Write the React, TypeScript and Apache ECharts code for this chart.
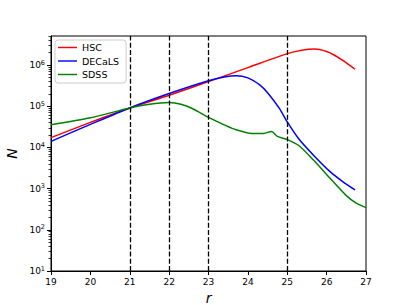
import React, { useEffect, useRef } from "react";
import * as echarts from "echarts";

// magnitude bins (r) and counts N
const hscR = [19, 20, 21, 22, 23, 24, 25, 25.4, 25.7, 26.0, 26.2, 26.45, 26.72];
const hscN = [17400, 40700, 91200, 186000, 398000, 871000, 1900000, 2340000, 2450000, 2140000, 1740000, 1230000, 794000];

const decalsR = [19, 20, 21, 22, 23, 23.4, 23.7, 24.0, 24.3, 24.5, 24.8, 25.0, 25.3, 25.66, 26.08, 26.4, 26.72];
const decalsN = [14100, 36300, 91200, 204000, 417000, 513000, 550000, 490000, 331000, 214000, 89100, 41700, 15800, 6600, 2630, 1510, 933];

const sdssR = [19, 20, 21, 21.5, 22, 22.3, 22.6, 23, 23.4, 23.7, 24.1, 24.4, 24.6, 24.75, 25.0, 25.3, 25.66, 26.08, 26.5, 26.75, 27.0];
const sdssN = [35500, 52500, 91200, 112000, 123000, 112000, 87100, 53700, 35500, 26900, 21900, 21900, 24500, 18600, 15500, 11000, 5010, 1820, 676, 447, 347];

const cutLines = [21, 22, 23, 25];
const majorExp = [1, 2, 3, 4, 5, 6];
const xTicks = [19, 20, 21, 22, 23, 24, 25, 26, 27];
const yMin = 10;
const yMax = 5100000;

const FONT = "DejaVu Sans";
const LEGEND_ICON = "path://M0,0 L20,0 L20,1.5 L0,1.5 Z";

export default function App() {
  const ref = useRef<HTMLDivElement>(null);
  useEffect(() => {
    if (!ref.current) return;
    const chart = echarts.init(ref.current, undefined, { renderer: "svg" });
    const lg = (v: number) => Math.log10(v);
    const toData = (rs: number[], ns: number[]) => rs.map((r, i) => [r, lg(ns[i])]);
    const minor: number[] = [];
    for (let n = 1; n <= 6; n++) {
      for (let k = 2; k <= 9; k++) {
        const v = lg(k * Math.pow(10, n));
        if (v <= lg(yMax)) minor.push(v);
      }
    }
    const lineSeries = (name: string, color: string, data: number[][], extra: any = {}) => ({
      name,
      type: "line",
      data,
      symbol: "none",
      showSymbol: false,
      smooth: 0.25,
      lineStyle: { color, width: 1.5 },
      itemStyle: { color },
      z: 3,
      ...extra,
    });
    chart.setOption({
      animation: false,
      backgroundColor: "#fff",
      textStyle: { fontFamily: FONT },
      grid: {
        left: 51,
        right: 41,
        top: 36,
        bottom: 34,
        show: true,
        borderColor: "#000",
        borderWidth: 1,
        backgroundColor: "transparent",
        containLabel: false,
        outerBoundsMode: "none",
      },
      legend: {
        left: 55,
        top: 40,
        orient: "vertical",
        icon: LEGEND_ICON,
        itemWidth: 19,
        itemHeight: 11,
        itemGap: 2.5,
        padding: [2, 7, 3, 3],
        backgroundColor: "rgba(255,255,255,0.8)",
        borderColor: "#cccccc",
        borderWidth: 1,
        borderRadius: 3,
        textStyle: { fontFamily: FONT, fontSize: 9.5, color: "#000", lineHeight: 11 },
        data: ["HSC", "DECaLS", "SDSS"],
      },
      xAxis: {
        type: "value",
        min: 19,
        max: 27,
        interval: 1,
        name: "r",
        nameLocation: "middle",
        nameGap: 17,
        nameTextStyle: { fontFamily: FONT, fontSize: 14, fontStyle: "italic", color: "#000" },
        axisLine: { show: true, lineStyle: { color: "#000", width: 1 } },
        axisTick: { show: true, inside: false, length: 4, lineStyle: { color: "#000" }, customValues: xTicks },
        axisLabel: { fontFamily: FONT, fontSize: 9, color: "#000", margin: 6, customValues: xTicks },
        splitLine: { show: false },
      },
      yAxis: [
        {
          type: "value",
          min: lg(yMin),
          max: lg(yMax),
          name: "N",
          nameLocation: "middle",
          nameGap: 25,
          nameTextStyle: { fontFamily: FONT, fontSize: 14, fontStyle: "italic", color: "#000" },
          axisLine: { show: true, lineStyle: { color: "#000", width: 1 } },
          axisTick: { show: true, inside: false, length: 4, lineStyle: { color: "#000" }, customValues: majorExp },
          axisLabel: {
            customValues: majorExp,
            margin: 6,
            formatter: (v: number) => `{b|10}{s|${Math.round(v)}}`,
            rich: {
              b: { fontFamily: FONT, fontSize: 9, color: "#000" },
              s: { fontFamily: FONT, fontSize: 6.5, color: "#000", padding: [0, 0, 5, 0] },
            },
          },
          splitLine: { show: false },
        },
        {
          type: "value",
          min: lg(yMin),
          max: lg(yMax),
          position: "left",
          axisLine: { show: false },
          axisTick: { show: true, inside: false, length: 2.5, lineStyle: { color: "#000", width: 0.8 }, customValues: minor },
          axisLabel: { show: false },
          splitLine: { show: false },
        },
      ],
      series: [
        lineSeries("HSC", "#ff0000", toData(hscR, hscN), {
          markLine: {
            silent: true,
            symbol: ["none", "none"],
            label: { show: false },
            lineStyle: { color: "#000", type: [5, 2.2], width: 1.3 },
            data: cutLines.map((x) => ({ xAxis: x })),
            z: 5,
          },
        }),
        lineSeries("DECaLS", "#0000ff", toData(decalsR, decalsN)),
        lineSeries("SDSS", "#008000", toData(sdssR, sdssN)),
      ],
    });
    return () => chart.dispose();
  }, []);
  return (
    <div
      ref={ref}
      style={{ position: "fixed", left: 0, top: 0, width: 407, height: 305, background: "#fff" }}
    />
  );
}
